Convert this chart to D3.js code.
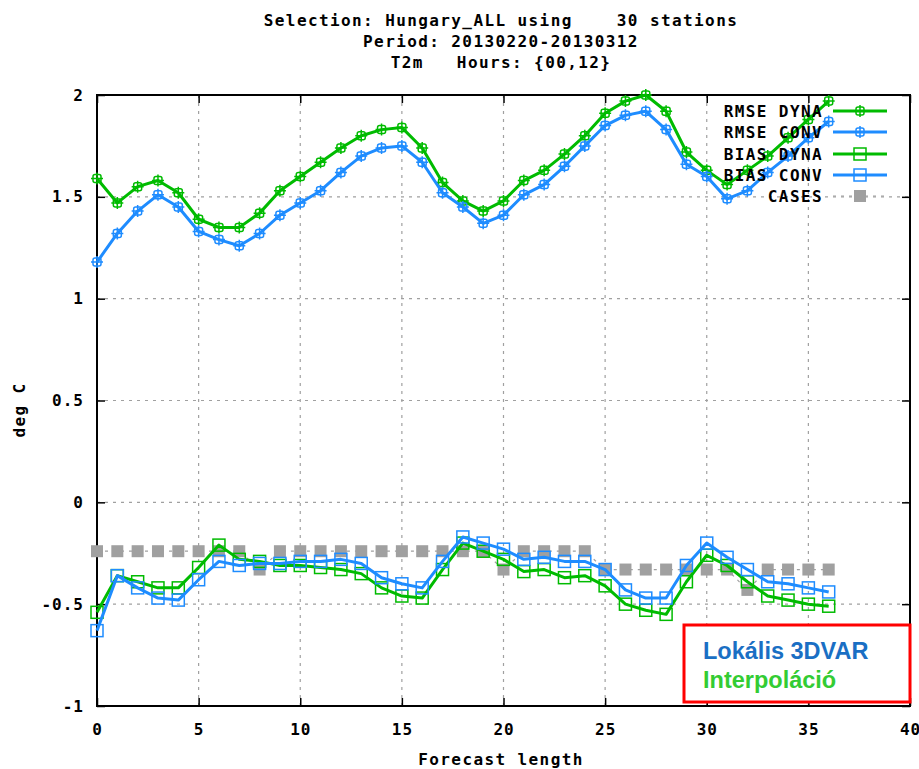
<!DOCTYPE html>
<html>
<head>
<meta charset="utf-8">
<script src="https://cdn.jsdelivr.net/npm/d3@7"></script>
<style>
  body { margin: 0; background: #fff; }
  svg { display: block; }
</style>
</head>
<body>
<svg id="chart" width="919" height="769"></svg>
<script>
// ---- data ----
const titleLines = ["Selection: Hungary_ALL using    30 stations", "Period: 20130220-20130312", "T2m   Hours: {00,12}"];
const forecastLength = d3.range(0, 37);
const rmseDyna = [1.59,1.47,1.55,1.58,1.52,1.39,1.35,1.35,1.42,1.53,1.60,1.67,1.74,1.80,1.83,1.84,1.74,1.57,1.48,1.43,1.48,1.58,1.63,1.71,1.80,1.91,1.97,2.00,1.92,1.72,1.63,1.56,1.63,1.70,1.79,1.88,1.97];
const rmseConv = [1.18,1.32,1.43,1.51,1.45,1.33,1.29,1.26,1.32,1.41,1.47,1.53,1.62,1.70,1.74,1.75,1.67,1.52,1.45,1.37,1.41,1.51,1.56,1.65,1.75,1.85,1.90,1.92,1.83,1.66,1.60,1.49,1.53,1.62,1.70,1.79,1.87];
const biasDyna = [-0.54,-0.36,-0.39,-0.42,-0.42,-0.32,-0.21,-0.28,-0.29,-0.31,-0.31,-0.32,-0.33,-0.35,-0.42,-0.46,-0.47,-0.33,-0.20,-0.24,-0.28,-0.34,-0.33,-0.37,-0.36,-0.41,-0.50,-0.53,-0.55,-0.39,-0.26,-0.31,-0.39,-0.46,-0.48,-0.50,-0.51];
const biasConv = [-0.63,-0.36,-0.42,-0.47,-0.48,-0.38,-0.29,-0.31,-0.30,-0.30,-0.29,-0.29,-0.28,-0.30,-0.37,-0.40,-0.42,-0.29,-0.17,-0.20,-0.23,-0.28,-0.27,-0.29,-0.29,-0.33,-0.43,-0.47,-0.47,-0.31,-0.20,-0.27,-0.33,-0.39,-0.40,-0.42,-0.44];
const cases = [-0.24,-0.24,-0.24,-0.24,-0.24,-0.24,-0.24,-0.24,-0.33,-0.24,-0.24,-0.24,-0.24,-0.24,-0.24,-0.24,-0.24,-0.24,-0.24,-0.24,-0.33,-0.24,-0.24,-0.24,-0.24,-0.33,-0.33,-0.33,-0.33,-0.33,-0.33,-0.33,-0.43,-0.33,-0.33,-0.33,-0.33];
const xTicks = [0,5,10,15,20,25,30,35,40];
const yTicks = [-1,-0.5,0,0.5,1,1.5,2];
const legendLabels = ["RMSE DYNA","RMSE CONV","BIAS DYNA","BIAS CONV","CASES"];
const boxLabels = ["Lokális 3DVAR","Interpoláció"];

// ---- styles ----
const GREEN = "#00bb00", BLUE = "#1e8cff", GRAY = "#a0a0a0";
const mono = "'DejaVu Sans Mono', monospace";
const LS = "1.4px";

const svg = d3.select("#chart");
const x = d3.scaleLinear().domain([0, 40]).range([97, 910]);
const y = d3.scaleLinear().domain([-1, 2]).range([706, 95]);

// grid
const grid = svg.append("g").attr("stroke", GRAY).attr("stroke-width", 1.2).attr("stroke-dasharray", "3,5");
grid.selectAll(".gx").data(xTicks.slice(1, -1)).join("line")
  .attr("x1", d => x(d)).attr("x2", d => x(d)).attr("y1", y(2)).attr("y2", y(-1));
grid.selectAll(".gy").data(yTicks.slice(1, -1)).join("line")
  .attr("y1", d => y(d)).attr("y2", d => y(d)).attr("x1", x(0)).attr("x2", x(40));

// axes with inward ticks
const fontTick = `bold 16px ${mono}`;
svg.append("g").attr("transform", `translate(0,${y(-1)})`)
  .call(d3.axisBottom(x).tickValues(xTicks).tickSize(-8).tickPadding(18).tickFormat(d3.format("d")));
svg.append("g").attr("transform", `translate(${x(0)},0)`)
  .call(d3.axisLeft(y).tickValues(yTicks).tickSize(-8).tickPadding(13).tickFormat(d => d === 0 ? "0" : String(d)));
svg.append("g").attr("transform", `translate(0,${y(2)})`)
  .call(d3.axisTop(x).tickValues(xTicks).tickSize(-8).tickFormat(""));
svg.append("g").attr("transform", `translate(${x(40)},0)`)
  .call(d3.axisRight(y).tickValues(yTicks).tickSize(-8).tickFormat(""));
svg.selectAll(".domain").remove();
svg.selectAll(".tick line").attr("stroke", "#000").attr("stroke-width", 1.5);
svg.selectAll(".tick text").style("font", fontTick).style("letter-spacing", "1px").attr("fill", "#000");

// border
svg.append("rect").attr("x", x(0)).attr("y", y(2)).attr("width", x(40) - x(0)).attr("height", y(-1) - y(2))
  .attr("fill", "none").attr("stroke", "#000").attr("stroke-width", 2);

// axis titles
svg.append("text").attr("x", 501).attr("y", 765).attr("text-anchor", "middle")
  .style("font", fontTick).style("letter-spacing", LS).text("Forecast length");
svg.append("text").attr("transform", "translate(25,410) rotate(-90)").attr("text-anchor", "middle")
  .style("font", fontTick).style("letter-spacing", LS).text("deg C");

// title
svg.selectAll(".title").data(titleLines).join("text")
  .attr("x", 501).attr("y", (d, i) => 26 + i * 21).attr("text-anchor", "middle")
  .style("font", `bold 16px ${mono}`).style("letter-spacing", LS).style("white-space", "pre")
  .text(d => d);

const line = d3.line().x((d, i) => x(forecastLength[i])).y(d => y(d));

// cases: dotted line + filled squares
svg.append("path").datum(cases).attr("d", line).attr("fill", "none")
  .attr("stroke", GRAY).attr("stroke-width", 1.2).attr("stroke-dasharray", "3,5");
svg.append("g").selectAll("rect").data(cases).join("rect")
  .attr("x", (d, i) => x(forecastLength[i]) - 6).attr("y", d => y(d) - 6)
  .attr("width", 12).attr("height", 12).attr("fill", GRAY);

function rmseMarker(g, cx, cy, color) {
  g.append("rect").attr("x", cx - 4).attr("y", cy - 4).attr("width", 8).attr("height", 8).attr("rx", 2)
    .attr("fill", "none").attr("stroke", color).attr("stroke-width", 1.5);
  g.append("path").attr("d", `M${cx - 6},${cy}H${cx + 6}M${cx},${cy - 6}V${cy + 6}`)
    .attr("stroke", color).attr("stroke-width", 1.5);
}
function biasMarker(g, cx, cy, color) {
  g.append("rect").attr("x", cx - 6).attr("y", cy - 6).attr("width", 12).attr("height", 12)
    .attr("fill", "none").attr("stroke", color).attr("stroke-width", 1.5);
}

const series = [
  { data: rmseDyna, color: GREEN, marker: rmseMarker },
  { data: rmseConv, color: BLUE, marker: rmseMarker },
  { data: biasDyna, color: GREEN, marker: biasMarker },
  { data: biasConv, color: BLUE, marker: biasMarker }
];
series.forEach(s => {
  const g = svg.append("g");
  g.append("path").datum(s.data).attr("d", line).attr("fill", "none")
    .attr("stroke", s.color).attr("stroke-width", 3).attr("stroke-linejoin", "round");
  s.data.forEach((d, i) => s.marker(g, x(forecastLength[i]), y(d), s.color));
});

// legend
const legY = [111, 132, 154, 175, 196];
const leg = svg.append("g");
legendLabels.forEach((lab, i) => {
  leg.append("text").attr("x", 823).attr("y", legY[i] + 6).attr("text-anchor", "end")
    .style("font", fontTick).style("letter-spacing", LS).text(lab);
  if (i < 4) {
    const s = series[i];
    leg.append("line").attr("x1", 833).attr("x2", 887).attr("y1", legY[i]).attr("y2", legY[i])
      .attr("stroke", s.color).attr("stroke-width", 3);
    s.marker(leg, 860, legY[i], s.color);
  } else {
    leg.append("line").attr("x1", 833).attr("x2", 887).attr("y1", legY[i]).attr("y2", legY[i])
      .attr("stroke", GRAY).attr("stroke-width", 1.2).attr("stroke-dasharray", "3,5");
    leg.append("rect").attr("x", 854).attr("y", legY[i] - 6).attr("width", 12).attr("height", 12).attr("fill", GRAY);
  }
});

// annotation box
svg.append("rect").attr("x", 684).attr("y", 625).attr("width", 226).attr("height", 77)
  .attr("fill", "#fff").attr("stroke", "#ff0000").attr("stroke-width", 3);
svg.append("text").attr("x", 703).attr("y", 659).style("font", "bold 23.5px Arial, 'Liberation Sans', sans-serif")
  .attr("fill", "#1a6fc4").text(boxLabels[0]);
svg.append("text").attr("x", 703).attr("y", 688).style("font", "bold 23.5px Arial, 'Liberation Sans', sans-serif")
  .attr("fill", "#33cc33").text(boxLabels[1]);
</script>
</body>
</html>
